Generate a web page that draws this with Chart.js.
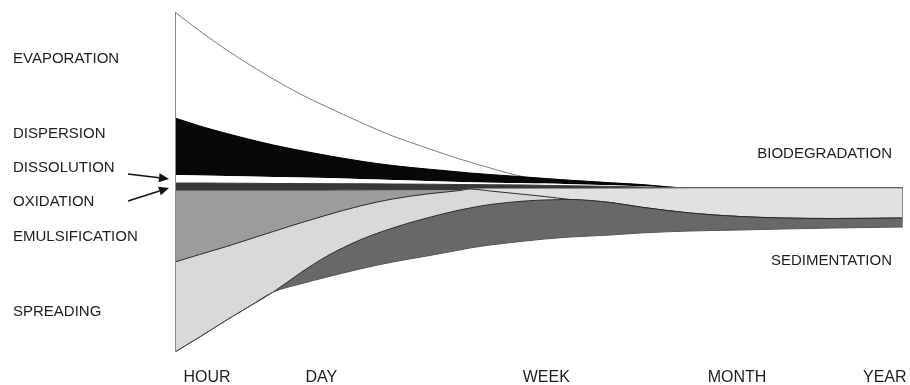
<!DOCTYPE html>
<html><head><meta charset="utf-8">
<script src="https://cdn.jsdelivr.net/npm/chart.js@4.4.1/dist/chart.umd.min.js"></script>
<style>
html,body{margin:0;padding:0;background:#fff;}
#wrap{position:relative;width:910px;height:385px;overflow:hidden;background:#fff;}
#c{position:absolute;left:0;top:0;width:910px;height:385px;}
.lbl{position:absolute;font-family:"Liberation Sans",Arial,sans-serif;font-size:15px;line-height:15px;color:#1e1e1e;white-space:nowrap;}
.r{text-align:right;}
</style></head><body>
<div id="wrap">
<canvas id="c" width="910" height="385"></canvas>
<div class="lbl" style="left:13px;top:50px">EVAPORATION</div>
<div class="lbl" style="left:13px;top:125px">DISPERSION</div>
<div class="lbl" style="left:13px;top:159px">DISSOLUTION</div>
<div class="lbl" style="left:13px;top:193px">OXIDATION</div>
<div class="lbl" style="left:13px;top:228px">EMULSIFICATION</div>
<div class="lbl" style="left:13px;top:303px">SPREADING</div>
<div class="lbl r" style="right:18px;top:145px">BIODEGRADATION</div>
<div class="lbl r" style="right:18px;top:252px">SEDIMENTATION</div>
</div>
<script>
// time positions (0 = start of spill, 100 = one year, arbitrary visual scale)
const TIME = [0,3.4,7.1,10.3,13.5,17.2,20.9,25.4,29.9,34.6,39.1,40.5,43.3,48.1,50.8,54.3,59.8,63.9,70.7,77.6,83.5,90.4,100];
const TICK_LABELS = ['HOUR','DAY','WEEK','MONTH','YEAR'];
const TICK_POSITIONS = [4.4,20.1,51.0,77.2,97.5];

// relative magnitude of each process (stacked, bottom to top)
const baseline       = [8,23,40,54,68,76,83,91,98,104,110,112,115,119,121,123,125,127,129,130,131,132,133];
const sedimentation  = [0,0,0,0,0,11,21,29,34,38,40,40,40.5,40,39,37.5,32.5,26,18,13.5,11,9.5,9];
const spreading      = [90,82.5,73.5,67,60.5,50,41,34,29,24,19.5,19,13.5,6.5,3.5,0,0,0,0,0,0,0,0];
const biodegradation = [0,0,0,0,0,0,0,0,0,0,0,0,2.5,6,8,11,14.2,18.8,25,28.5,30,30.5,30];
const emulsification = [72,64.5,56.5,49,41.5,33,25,16.2,9.3,4.4,1,0,0,0,0,0,0,0,0,0,0,0,0];
const oxidation      = [7,7,6.8,6.7,6.5,6.4,6.3,6,5.7,5.4,5,4.4,3.7,3.5,3.1,2.7,1.9,1.2,0,0,0,0,0];
const dissolution    = [8,7.5,7.2,6.8,6.5,6.1,5.7,4.8,4,3.2,2.5,2.3,2.1,1.8,1.8,1.6,1.1,0.8,0,0,0,0,0];
const dispersion     = [57,49.5,42.5,37,32,27,22.5,18,14.5,12,10,9.3,8.2,6.2,5.1,3.9,2.5,1.7,0,0,0,0,0];
const evaporation    = [106,95,83.5,74.5,66,56.5,48.5,39,29.5,21,13,11,6.5,0,0,0,0,0,0,0,0,0,0];

const LAYERS = [
  {name:'base', data:baseline, bg:'rgba(0,0,0,0)', border:'#555555', fill:false},
  {name:'Sedimentation', data:sedimentation, bg:'#686868', border:'#2a2a2a', fill:'-1'},
  {name:'Spreading', data:spreading, bg:'#d9d9d9', border:'#2a2a2a', fill:'-1'},
  {name:'Biodegradation', data:biodegradation, bg:'#e1e1e1', border:'#8a8a8a', fill:'-1'},
  {name:'Emulsification', data:emulsification, bg:'#9c9c9c', border:'#333333', fill:'-1'},
  {name:'Oxidation', data:oxidation, bg:'#383838', border:'#383838', fill:'-1'},
  {name:'Dissolution', data:dissolution, bg:'#ffffff', border:'rgba(0,0,0,0)', fill:'-1'},
  {name:'Dispersion', data:dispersion, bg:'#080808', border:'#000000', fill:'-1'},
  {name:'Evaporation', data:evaporation, bg:'#ffffff', border:'#7a7a7a', fill:'-1'}
];

function cum(upto, i){ let s=0; for(let k=0;k<=upto;k++) s+=LAYERS[k].data[i]; return s; }

const deco = {
  id:'deco',
  afterDatasetsDraw(chart){
    const ctx = chart.ctx, xs = chart.scales.x, ys = chart.scales.y;
    const last = TIME.length-1, top = LAYERS.length-1;
    ctx.save();
    ctx.strokeStyle = '#8a8a8a'; ctx.lineWidth = 1;
    [0,last].forEach(i=>{
      const px = Math.round(xs.getPixelForValue(TIME[i])) + (i===0?0.5:-0.5);
      ctx.beginPath();
      ctx.moveTo(px, ys.getPixelForValue(cum(0,i)));
      ctx.lineTo(px, ys.getPixelForValue(cum(top,i)));
      ctx.stroke();
    });
    // arrows from labels to thin layers
    const x0 = xs.getPixelForValue(TIME[0]);
    const dissMid = ys.getPixelForValue(cum(5,0) + dissolution[0]/2);
    const oxMid = ys.getPixelForValue(cum(4,0) + oxidation[0]/2) + 1.5;
    const arrows = [[128,174,x0-6,dissMid],[128,201,x0-6,oxMid]];
    ctx.strokeStyle = '#111'; ctx.fillStyle = '#111'; ctx.lineWidth = 1.6;
    arrows.forEach(([ax,ay,bx,by])=>{
      const ang = Math.atan2(by-ay, bx-ax), L = 10, W = 4.5;
      const hx = bx - L*Math.cos(ang), hy = by - L*Math.sin(ang);
      ctx.beginPath(); ctx.moveTo(ax,ay); ctx.lineTo(hx,hy); ctx.stroke();
      ctx.beginPath();
      ctx.moveTo(bx,by);
      ctx.lineTo(hx + W*Math.sin(ang), hy - W*Math.cos(ang));
      ctx.lineTo(hx - W*Math.sin(ang), hy + W*Math.cos(ang));
      ctx.closePath(); ctx.fill();
    });
    ctx.restore();
  }
};

new Chart(document.getElementById('c'), {
  type:'line',
  data:{
    datasets: LAYERS.map(l=>({
      label:l.name,
      data:TIME.map((t,i)=>({x:t, y:l.data[i]})),
      backgroundColor:l.bg,
      borderColor:l.border,
      borderWidth:1,
      fill:l.fill,
      pointRadius:0,
      cubicInterpolationMode:'monotone'
    }))
  },
  options:{
    responsive:false,
    devicePixelRatio:1,
    animation:false,
    layout:{padding:{left:175,right:7,top:0,bottom:0}},
    plugins:{legend:{display:false},tooltip:{enabled:false}},
    scales:{
      x:{
        type:'linear', min:0, max:100,
        grid:{display:false}, border:{display:false},
        afterBuildTicks:(s)=>{ s.ticks = TICK_POSITIONS.map(v=>({value:v})); },
        afterFit:(s)=>{ s.height = 33; s.paddingLeft = 0; s.paddingRight = 0; },
        ticks:{
          autoSkip:false, maxRotation:0, padding:8, color:'#1e1e1e',
          font:{family:'"Liberation Sans", Arial, sans-serif', size:16},
          callback:(v,i)=>TICK_LABELS[i]
        }
      },
      y:{display:false, stacked:true, min:8, max:360}
    }
  },
  plugins:[deco]
});
</script>
</body></html>
